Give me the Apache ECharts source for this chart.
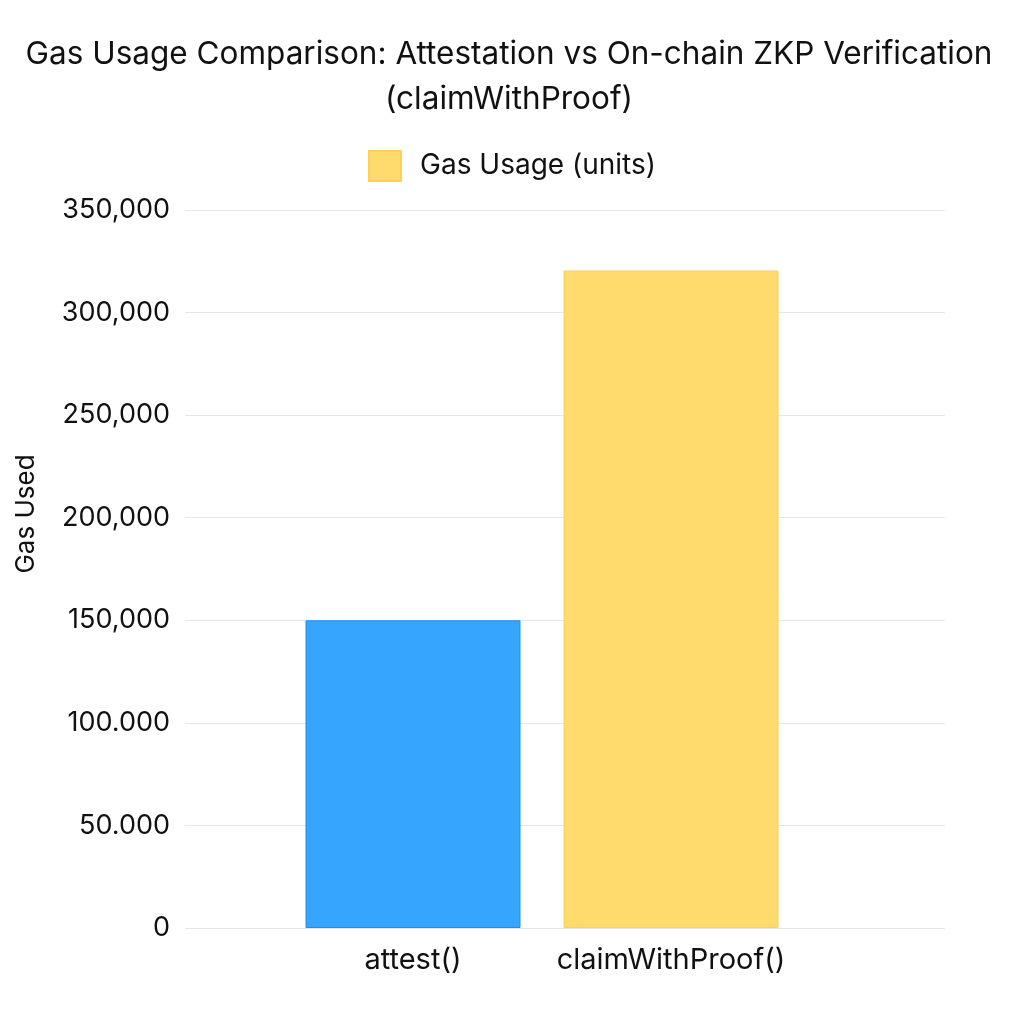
<!DOCTYPE html>
<html><head><meta charset="utf-8">
<script src="https://cdn.jsdelivr.net/npm/echarts@6/dist/echarts.min.js"></script>
<style>html,body{margin:0;padding:0;background:#fff}#c{width:1024px;height:1024px}</style>
</head><body><div id="c"></div>
<script>
const categories = ['attest()', 'claimWithProof()'];
const gasValues = [150000, 320500];
const barColors = ['#36A5FD', '#FFDA6C'];
const barBorders = ['#1E8EF0', '#FFD150'];
const tickLabels = ['0', '50.000', '100.000', '150,000', '200,000', '250,000', '300,000', '350,000'];
const seriesName = 'Gas Usage (units)';
const titleText = 'Gas Usage Comparison: Attestation vs On-chain ZKP Verification\n(claimWithProof)';

const FONT = 'Inter';
const chart = echarts.init(document.getElementById('c'));
chart.setOption({
  backgroundColor: '#fff',
  animation: false,
  textStyle: { fontFamily: FONT },
  title: {
    text: titleText, left: 504, textAlign: 'center', top: 27,
    textStyle: { fontSize: 31.5, fontWeight: 'normal', color: '#111', lineHeight: 45, fontFamily: FONT }
  },
  legend: {
    top: 145, left: 'center', itemWidth: 32, itemHeight: 30, itemGap: 10, icon: 'rect',
    textStyle: { fontSize: 28, color: '#111', fontFamily: FONT, padding: [0, 0, 0, 14] },
    data: [seriesName]
  },
  grid: [
    { left: 185, right: 79, top: 210, bottom: 96 },
    { left: 284, right: 224, top: 210, bottom: 96 }
  ],
  xAxis: [
    { type: 'category', gridIndex: 0, data: categories, show: false },
    { type: 'category', gridIndex: 1, data: categories,
      axisLine: { show: false }, axisTick: { show: false },
      axisLabel: { interval: 0, fontSize: 29, color: '#111', margin: 18, fontFamily: FONT } }
  ],
  yAxis: [
    { type: 'value', gridIndex: 0, min: 0, max: 350000, interval: 50000,
      name: 'Gas Used', nameLocation: 'middle', nameGap: 146, nameRotate: 90,
      nameTextStyle: { fontSize: 26, color: '#111', fontFamily: FONT, padding: [0, 0, 0, 110] },
      axisLine: { show: false }, axisTick: { show: false },
      axisLabel: { fontSize: 27, color: '#111', margin: 15, fontFamily: FONT,
        formatter: (v) => tickLabels[Math.round(v / 50000)] },
      splitLine: { lineStyle: { color: '#E6E6E6', width: 1 } } },
    { type: 'value', gridIndex: 1, min: 0, max: 350000, show: false, splitLine: { show: false } }
  ],
  series: [{
    name: seriesName, type: 'bar', xAxisIndex: 1, yAxisIndex: 1,
    barWidth: 215,
    itemStyle: { color: barColors[1], borderColor: barBorders[1], borderWidth: 1 },
    data: gasValues.map((v, i) => ({ value: v, itemStyle: { color: barColors[i], borderColor: barBorders[i], borderWidth: 1 } }))
  }]
});
</script></body></html>
